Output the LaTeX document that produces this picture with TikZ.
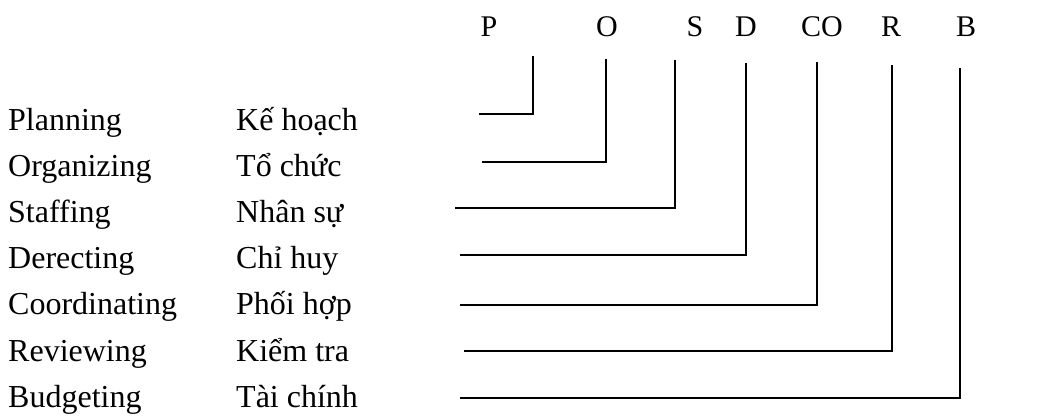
\documentclass[tikz,border=0pt]{standalone}
\usepackage{fontspec}
\setmainfont{Liberation Serif}
\begin{document}
\begin{tikzpicture}[x=1pt,y=-1pt,
  lbl/.style={anchor=base west,inner sep=0pt,font=\fontsize{32}{38}\selectfont},
  top/.style={anchor=base,inner sep=0pt,font=\fontsize{30}{36}\selectfont},
  conn/.style={line width=1.6pt}]
\useasboundingbox (0,0) rectangle (1057,415);
% top letters
\node[top] (P)  at (489,36) {P};
\node[top] (O)  at (607,36) {O};
\node[top] (S)  at (695,36) {S};
\node[top] (D)  at (746,36) {D};
\node[top] (CO) at (822,36) {CO};
\node[top] (R)  at (891,36) {R};
\node[top] (B)  at (966,36) {B};
% left labels
\foreach \n/\en/\vi [count=\i from 0] in {pl/Planning/Kế hoạch, or/Organizing/Tổ chức, st/Staffing/Nhân sự, de/Derecting/Chỉ huy, co/Coordinating/Phối hợp, re/Reviewing/Kiểm tra, bu/Budgeting/Tài chính}{
  \node[lbl] (\n en) at (8,130+46.2*\i) {\en};
  \node[lbl] (\n vi) at (236,130+46.2*\i) {\vi};
}
% connector end points
\coordinate (Pt) at (533,56);  \coordinate (Pe) at (479,114);
\coordinate (Ot) at (606,59);  \coordinate (Oe) at (482,162);
\coordinate (St) at (675,60);  \coordinate (Se) at (455,208);
\coordinate (Dt) at (746,63);  \coordinate (De) at (460,255);
\coordinate (COt) at (817,62); \coordinate (COe) at (460,305);
\coordinate (Rt) at (892,65);  \coordinate (Re) at (464,351);
\coordinate (Bt) at (960,68);  \coordinate (Be) at (460,398);
\foreach \c in {P,O,S,D,CO,R,B}{
  \draw[conn] (\c t) |- (\c e);
}
\end{tikzpicture}
\end{document}
